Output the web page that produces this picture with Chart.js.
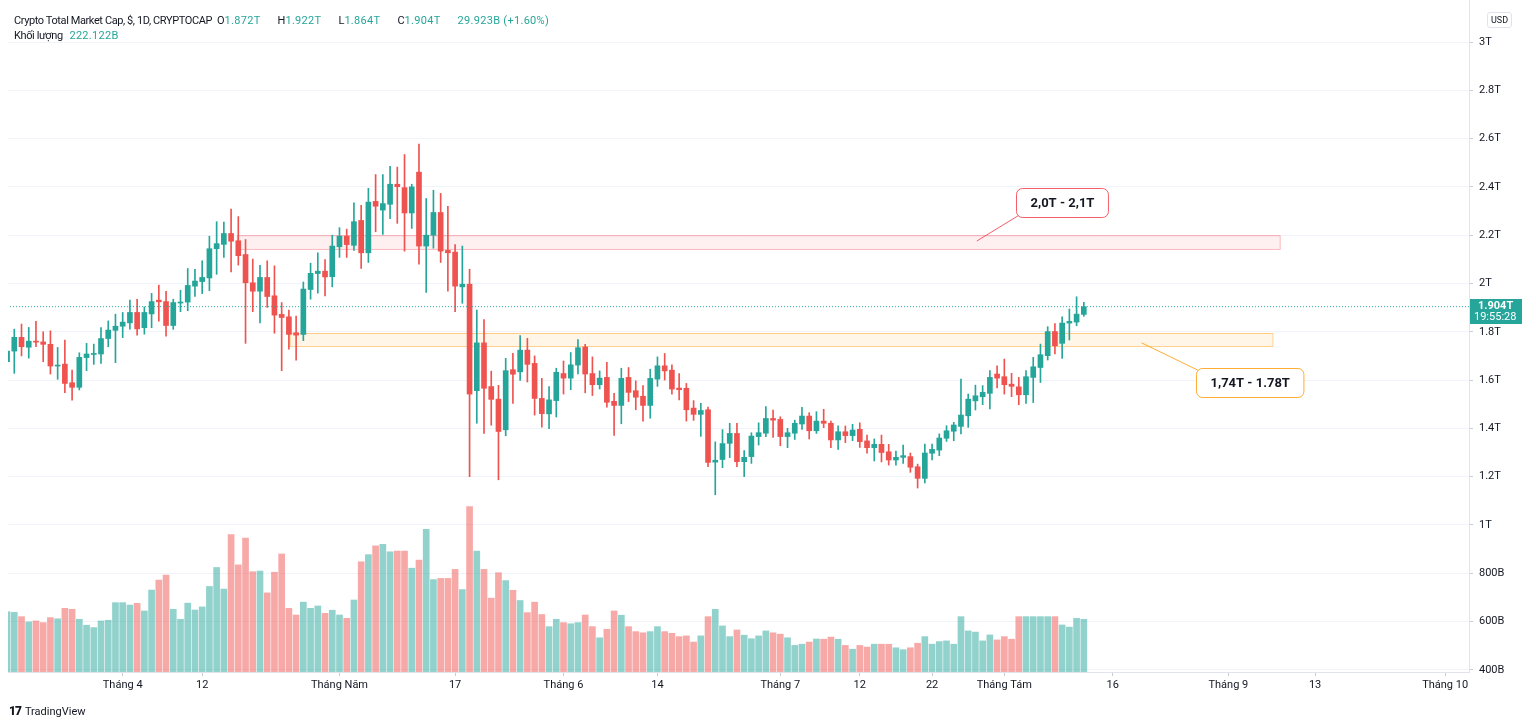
<!DOCTYPE html>
<html>
<head>
<meta charset="utf-8">
<script src="https://cdn.jsdelivr.net/npm/chart.js@4.4.1/dist/chart.umd.min.js"></script>
<style>
html, body { margin: 0; padding: 0; background: #fff; }
body { width: 1536px; height: 725px; position: relative; overflow: hidden; font-family: Roboto, "Liberation Sans", sans-serif; color: #131722; }
#wrap { position: absolute; left: 0; top: 0; width: 1536px; height: 725px; }
.head { position: absolute; left: 14px; font-size: 11px; white-space: nowrap; }
.head .title { letter-spacing: -0.4px; }
.head b { font-weight: normal; color: #26a69a; letter-spacing: 0.3px; }
.head i { font-style: normal; margin-left: 17px; }
.head i.first { margin-left: 5px; }
#usd { position: absolute; left: 1487px; top: 12px; border: 1px solid #e0e3eb; border-radius: 3px; font-size: 9px; padding: 2px 3px; color: #131722; }
#logo { position: absolute; left: 9px; top: 704px; font-size: 11px; color: #131722; display: flex; align-items: center; gap: 4px; }
#logo strong { font-size: 12px; font-weight: 900; letter-spacing: -1px; }
</style>
</head>
<body>
<div id="wrap"><canvas id="chart"></canvas></div>
<div class="head" style="top:14px"><span class="title">Crypto Total Market Cap, $, 1D, CRYPTOCAP</span><i class="first">O</i><b>1.872T</b><i>H</i><b>1.922T</b><i>L</i><b>1.864T</b><i>C</i><b>1.904T</b><b style="margin-left:17px">29.923B (+1.60%)</b></div>
<div class="head" style="top:29px"><span class="title">Khối lượng</span> <b style="margin-left:4px">222.122B</b></div>
<div id="usd">USD</div>
<div id="logo"><strong>17</strong><span>TradingView</span></div>
<script>
// day index 0 = 16 Mar
const open = [
  1.676,1.72,1.777,1.736,1.761,1.758,1.748,1.658,1.666,1.589,1.570,1.693,1.706,1.708,1.772,1.806,
  1.823,1.837,1.88,1.817,1.874,1.931,1.925,1.826,1.919,1.923,1.989,2.008,2.023,2.144,2.162,2.207,2.177,2.12,2.003,1.968,2.025,1.949,1.872,1.862,1.796,1.789,1.975,2.041,2.051,2.028,
  2.152,2.196,2.158,2.261,2.127,2.34,2.304,2.328,2.411,2.397,2.292,2.461,2.155,2.2,2.294,2.137,2.13,1.986,1.997,1.556,1.754,1.573,1.521,1.394,1.643,1.634,1.724,1.669,1.524,1.46,1.515,
  1.627,1.608,1.662,1.737,1.627,1.581,1.611,1.512,1.495,1.611,1.556,1.533,1.495,1.604,1.659,1.641,1.567,1.566,1.484,1.458,1.477,1.26,1.271,1.338,1.379,1.262,1.283,1.366,1.38,1.441,
  1.437,1.366,1.38,1.418,1.451,1.39,1.43,1.421,1.352,1.386,1.37,1.396,1.348,1.32,1.334,1.303,1.269,1.28,1.283,1.241,1.193,1.297,1.31,1.359,1.388,1.408,1.452,1.514,1.531,1.545,1.625,
  1.614,1.583,1.572,1.539,1.611,1.652,1.701,1.801,1.752,1.836,1.84,1.872
];
const high = [
  1.74,1.811,1.832,1.818,1.843,1.80,1.804,1.735,1.766,1.641,1.713,1.752,1.749,1.817,1.845,1.873,
  1.88,1.931,1.934,1.903,1.959,1.993,1.968,1.935,1.972,2.062,2.059,2.094,2.196,2.256,2.254,2.308,2.277,2.182,2.101,2.075,2.094,2.073,1.921,1.890,1.865,2.006,2.084,2.127,2.099,2.2,
  2.231,2.225,2.334,2.324,2.394,2.451,2.451,2.485,2.482,2.534,2.411,2.577,2.352,2.386,2.373,2.32,2.161,2.155,2.059,1.89,1.851,1.637,1.578,1.69,1.711,1.784,1.773,1.70,1.607,1.573,1.649,
  1.679,1.714,1.768,1.748,1.696,1.638,1.673,1.545,1.649,1.652,1.597,1.577,1.645,1.696,1.71,1.663,1.627,1.586,1.515,1.504,1.488,1.344,1.395,1.421,1.421,1.308,1.382,1.423,1.49,1.476,
  1.448,1.4,1.434,1.487,1.465,1.469,1.479,1.43,1.41,1.41,1.417,1.423,1.372,1.356,1.372,1.334,1.306,1.331,1.298,1.252,1.335,1.335,1.377,1.411,1.425,1.604,1.542,1.579,1.577,1.639,1.659,
  1.687,1.628,1.611,1.639,1.694,1.749,1.821,1.834,1.862,1.894,1.945,1.922
];
const low = [
  1.65,1.628,1.70,1.691,1.738,1.676,1.625,1.603,1.548,1.517,1.559,1.639,1.665,1.669,1.738,1.672,
  1.776,1.811,1.786,1.79,1.817,1.844,1.782,1.81,1.883,1.887,1.946,1.958,1.970,2.038,2.108,2.048,2.076,1.752,1.883,1.837,1.901,1.794,1.639,1.728,1.682,1.763,1.935,1.96,1.948,1.986,
  2.108,2.108,2.137,2.062,2.087,2.214,2.203,2.268,2.249,2.134,2.228,2.08,1.963,2.146,2.087,1.968,1.883,1.918,1.2,1.421,1.379,1.413,1.187,1.369,1.503,1.599,1.592,1.455,1.405,1.399,1.447,
  1.542,1.56,1.625,1.547,1.536,1.563,1.488,1.371,1.419,1.511,1.477,1.43,1.442,1.574,1.6,1.542,1.518,1.43,1.433,1.367,1.241,1.125,1.237,1.279,1.241,1.2,1.255,1.331,1.366,1.363,
  1.328,1.32,1.354,1.396,1.356,1.379,1.403,1.32,1.313,1.341,1.349,1.321,1.297,1.265,1.261,1.248,1.248,1.255,1.218,1.153,1.174,1.269,1.287,1.346,1.349,1.377,1.404,1.476,1.498,1.48,1.567,
  1.542,1.531,1.498,1.503,1.507,1.59,1.683,1.708,1.69,1.766,1.825,1.864
];
const close = [
  1.72,1.777,1.738,1.761,1.757,1.748,1.658,1.662,1.586,1.570,1.694,1.708,1.710,1.772,1.807,1.823,
  1.84,1.88,1.812,1.88,1.925,1.924,1.826,1.921,1.923,1.992,2.010,2.025,2.144,2.165,2.207,2.175,2.115,2.003,1.968,2.025,1.946,1.869,1.859,1.789,1.786,1.977,2.042,2.051,2.027,2.155,
  2.196,2.161,2.256,2.127,2.337,2.32,2.331,2.411,2.401,2.292,2.4,2.155,2.2,2.294,2.134,2.127,1.989,1.997,1.542,1.754,1.566,1.52,1.387,1.639,1.624,1.724,1.665,1.524,1.461,1.518,1.632,
  1.608,1.663,1.734,1.625,1.581,1.608,1.508,1.495,1.607,1.549,1.529,1.495,1.607,1.659,1.638,1.563,1.56,1.477,1.458,1.474,1.259,1.268,1.337,1.379,1.262,1.28,1.368,1.382,1.441,1.434,
  1.366,1.382,1.421,1.451,1.39,1.43,1.421,1.352,1.386,1.37,1.393,1.345,1.32,1.334,1.3,1.269,1.28,1.287,1.239,1.193,1.298,1.313,1.36,1.39,1.414,1.455,1.521,1.535,1.549,1.611,1.608,
  1.581,1.574,1.539,1.614,1.655,1.705,1.801,1.742,1.836,1.843,1.873,1.904
];
// volume, billions USD
const volume = [
  254,251,233,211,215,208,229,224,268,264,222,197,187,215,218,292,
  292,282,289,257,345,387,408,264,222,290,261,274,360,440,349,578,451,564,422,425,333,420,497,268,240,294,268,278,247,260,
  240,226,303,464,494,531,537,506,509,509,437,471,601,389,394,394,432,347,696,509,432,311,418,385,344,301,250,294,242,191,222,
  208,203,208,240,191,144,180,257,239,191,170,165,170,191,170,163,149,152,126,152,233,264,194,149,177,155,140,152,173,165,
  159,144,112,117,126,139,138,147,138,112,96,112,105,117,117,117,102,94,102,121,149,117,128,131,117,233,173,168,131,156,135,
  149,138,233,233,233,233,233,233,198,189,226,222
];

const tickDays  = [16, 27, 46, 62, 77, 90, 107, 118, 128, 138, 153, 169, 181, 199];
const tickNames = ['Tháng 4', '12', 'Tháng Năm', '17', 'Tháng 6', '14', 'Tháng 7', '12', '22', 'Tháng Tám', '16', 'Tháng 9', '13', 'Tháng 10'];
const priceTicks = [0.4, 0.6, 0.8, 1.0, 1.2, 1.4, 1.6, 1.8, 2.0, 2.2, 2.4, 2.6, 2.8, 3.0];

// zones drawn on the chart (day index / price in T)
const zoneNames  = ['2,0T - 2,1T', '1,74T - 1.78T'];
const zoneFrom   = [31.8, 39.1];
const zoneTo     = [176.1, 175.1];
const zoneTop    = [2.2, 1.795];
const zoneBottom = [2.143, 1.741];
const labelDay   = [146, 172];
const labelPrice = [2.337, 1.588];
const pointDay   = [134.2, 157];
const pointPrice = [2.176, 1.754];

const UP = '#26a69a', DOWN = '#ef5350';
const isUp = i => close[i] >= open[i];

const wicks  = open.map((_, i) => ({ x: i, y: [low[i], high[i]] }));
const bodies = open.map((_, i) => ({ x: i, y: [open[i], close[i]] }));
const vols   = volume.map((v, i) => ({ x: i, y: v }));
const last = close[close.length - 1];

const zoneFill   = ['rgba(242,54,69,0.08)', 'rgba(255,152,0,0.09)'];
const zoneBorder = ['rgba(242,54,69,0.35)', 'rgba(255,152,0,0.45)'];

const overlay = {
  id: 'overlay',
  beforeDatasetsDraw(chart) {
    const { ctx, scales: { x, y } } = chart;
    ctx.save();
    zoneNames.forEach((_, k) => {
      const x1 = x.getPixelForValue(zoneFrom[k]), x2 = x.getPixelForValue(zoneTo[k]);
      const y1 = y.getPixelForValue(zoneTop[k]), y2 = y.getPixelForValue(zoneBottom[k]);
      ctx.fillStyle = zoneFill[k];
      ctx.fillRect(x1, y1, x2 - x1, y2 - y1);
      ctx.strokeStyle = zoneBorder[k];
      ctx.lineWidth = 1;
      ctx.strokeRect(x1 + 0.5, y1 + 0.5, x2 - x1, y2 - y1);
    });
    ctx.restore();
  },
  afterDatasetsDraw(chart) {
    const { ctx, scales: { x, y } } = chart;
    ctx.save();
    ctx.font = 'bold 13px Roboto, "Liberation Sans", sans-serif';
    zoneNames.forEach((txt, k) => {
      const cx = x.getPixelForValue(labelDay[k]), cy = y.getPixelForValue(labelPrice[k]);
      const w = ctx.measureText(txt).width + 28, h = 29;
      const bx = Math.round(cx - w / 2) + 0.5, by = Math.round(cy - h / 2) + 0.5;
      const px = x.getPixelForValue(pointDay[k]), py = y.getPixelForValue(pointPrice[k]);
      ctx.strokeStyle = zoneBorder[k].replace(/0\.\d+\)/, '0.8)');
      ctx.lineWidth = 1;
      ctx.beginPath();
      ctx.moveTo(px, py);
      ctx.lineTo(bx + 2, k === 0 ? by + h - 2 : by + 2);
      ctx.stroke();
      ctx.fillStyle = '#fff';
      ctx.beginPath();
      ctx.roundRect(bx, by, w, h, 6);
      ctx.fill();
      ctx.stroke();
      ctx.fillStyle = '#131722';
      ctx.textAlign = 'center';
      ctx.textBaseline = 'middle';
      ctx.fillText(txt, bx + w / 2, by + h / 2 + 1);
    });
    ctx.restore();
  },
  afterDraw(chart) {
    const { ctx, chartArea, scales: { y } } = chart;
    const py = Math.round(y.getPixelForValue(last));
    ctx.save();
    ctx.fillStyle = UP;
    ctx.fillRect(chartArea.right + 1, py - 8, 52, 25);
    ctx.fillStyle = '#fff';
    ctx.textAlign = 'left';
    ctx.textBaseline = 'middle';
    ctx.font = 'bold 11px Roboto, "Liberation Sans", sans-serif';
    ctx.fillText(last.toFixed(3) + 'T', chartArea.right + 9, py - 1);
    ctx.font = '11px Roboto, "Liberation Sans", sans-serif';
    ctx.fillText('19:55:28', chartArea.right + 5, py + 10);
    ctx.restore();
  }
};

function fmtPrice(v) {
  v = Math.round(v * 10) / 10;
  return v >= 1 ? (+v.toFixed(1)) + 'T' : Math.round(v * 1000) + 'B';
}

const font = { family: 'Roboto, "Liberation Sans", sans-serif', size: 11 };

new Chart(document.getElementById('chart'), {
  data: {
    datasets: [
      {
        type: 'bar', label: 'Khối lượng', data: vols, yAxisID: 'yv', grouped: false,
        barThickness: 6, backgroundColor: c => isUp(c.dataIndex) ? 'rgba(38,166,154,0.5)' : 'rgba(239,83,80,0.5)'
      },
      {
        type: 'line', label: 'last', data: [{ x: 0, y: last }, { x: 203, y: last }],
        borderColor: UP, borderWidth: 1, borderDash: [1, 2], pointRadius: 0
      },
      {
        type: 'bar', label: 'wick', data: wicks, grouped: false, barThickness: 1, minBarLength: 1,
        backgroundColor: c => isUp(c.dataIndex) ? UP : DOWN
      },
      {
        type: 'bar', label: 'body', data: bodies, grouped: false, barThickness: 5, minBarLength: 1,
        backgroundColor: c => isUp(c.dataIndex) ? UP : DOWN
      }
    ]
  },
  options: {
    responsive: true,
    maintainAspectRatio: false,
    animation: false,
    events: [],
    layout: { autoPadding: false, padding: { left: 8, top: 0, right: 0, bottom: 25 } },
    plugins: { legend: { display: false }, tooltip: { enabled: false } },
    scales: {
      x: {
        type: 'linear', min: 0.13, max: 202.3, offset: false,
        afterBuildTicks: s => { s.ticks = tickDays.map(v => ({ value: v })); },
        afterFit: s => { s.height = 28; s.paddingLeft = 0; s.paddingRight = 0; },
        ticks: { callback: v => tickNames[tickDays.indexOf(v)], color: '#131722', font, padding: 3, maxRotation: 0 },
        grid: { offset: false, drawOnChartArea: false, drawTicks: true, tickLength: 4, tickColor: '#c9ccd3' },
        border: { display: true, color: '#e0e3eb' }
      },
      y: {
        position: 'right', min: 0.391, max: 3.174,
        afterBuildTicks: s => { s.ticks = priceTicks.map(v => ({ value: v })); },
        afterFit: s => { s.width = 67; s.paddingTop = 0; s.paddingBottom = 0; },
        ticks: { callback: fmtPrice, color: '#131722', font, padding: 6 },
        grid: { color: '#f0f3fa', drawTicks: true, tickLength: 4, tickColor: '#c9ccd3' },
        border: { display: true, color: '#e0e3eb' }
      },
      yv: { display: false, min: 0, max: 2829 }
    }
  },
  plugins: [overlay]
});
</script>
</body>
</html>
